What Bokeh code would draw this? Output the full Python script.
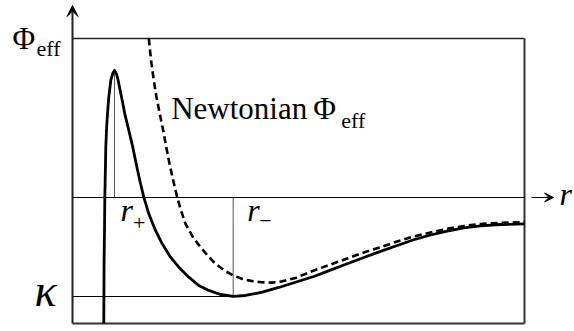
from bokeh.plotting import figure
from bokeh.models import Range1d, Arrow, VeeHead
from bokeh.core.properties import value
from bokeh.embed import file_html
from bokeh.resources import INLINE

# Effective potential in general relativity (solid curve)
r_gr = [0.692, 0.699, 0.708, 0.715, 0.723, 0.730, 0.737, 0.752, 0.774, 0.803,
        0.847, 0.892, 0.929, 0.973, 1.011, 1.055, 1.100, 1.157, 1.246, 1.334,
        1.409, 1.489, 1.577, 1.688, 1.836, 1.985, 2.168, 2.352, 2.573, 2.794,
        3.015, 3.274, 3.555, 3.827, 4.197, 4.564, 4.934, 5.339, 5.708, 6.077,
        6.446, 6.814, 7.184, 7.551, 7.920, 8.290, 8.657, 9.027, 9.469, 10.0]
phi_gr = [-1.273, -0.636, -0.333, 0.003, 0.172, 0.343, 0.508, 0.677, 0.845, 1.013,
          1.182, 1.256, 1.283, 1.249, 1.182, 1.081, 0.980, 0.845, 0.677, 0.508,
          0.340, 0.172, 0.003, -0.165, -0.333, -0.468, -0.603, -0.704, -0.805, -0.889,
          -0.939, -0.980, -1.0, -0.990, -0.957, -0.909, -0.856, -0.798, -0.734, -0.670,
          -0.606, -0.545, -0.485, -0.427, -0.379, -0.340, -0.308, -0.286, -0.273, -0.266]

# Newtonian effective potential (dashed curve)
r_newt = [1.688, 1.715, 1.748, 1.799, 1.858, 1.931, 2.007, 2.075, 2.146, 2.228,
          2.316, 2.400, 2.500, 2.655, 2.832, 2.998, 3.164, 3.352, 3.555, 3.761,
          3.976, 4.181, 4.403, 4.602, 4.934, 5.339, 5.708, 6.077, 6.446, 6.814,
          7.184, 7.551, 7.920, 8.290, 8.657, 9.027, 9.469, 10.0]
phi_newt = [1.606, 1.485, 1.351, 1.182, 1.013, 0.845, 0.677, 0.508, 0.340, 0.172,
            0.003, -0.131, -0.266, -0.394, -0.502, -0.591, -0.670, -0.734, -0.788, -0.823,
            -0.845, -0.857, -0.860, -0.851, -0.813, -0.737, -0.677, -0.616, -0.556, -0.502,
            -0.444, -0.394, -0.354, -0.316, -0.288, -0.268, -0.256, -0.249]

# Plot box limits
R_MAX = 10.0
PHI_TOP = 1.606
PHI_BOT = -1.273

# Turning points of the GR curve: maximum (r+) and the minimum beyond it (r-)
i_max = phi_gr.index(max(phi_gr))
tail = phi_gr[i_max:]
i_min = i_max + tail.index(min(tail))
r_plus, phi_peak = r_gr[i_max], phi_gr[i_max]
r_minus, kappa = r_gr[i_min], phi_gr[i_min]

W, H = 574, 331
PX = 45.2   # pixels per unit r
PY = 99.0   # pixels per unit Phi


def dx(px):
    return px / PX


def dy(py):
    return py / PY


p = figure(width=W, height=H,
           x_range=Range1d(-dx(72), R_MAX + dx(50)),
           y_range=Range1d(PHI_BOT - dy(8), PHI_TOP + dy(38)),
           output_backend="svg", toolbar_location=None,
           min_border=0, min_border_left=0, min_border_right=0,
           min_border_top=0, min_border_bottom=0)
p.axis.visible = False
p.grid.visible = False
p.outline_line_color = None
p.background_fill_color = "white"
p.border_fill_color = "white"

FONT = value("Liberation Serif")
dark = "#222222"


def label(x, y_base, txt, size, italic=False, align="left"):
    """Place text so that its baseline sits at y_base (data units)."""
    lift = dy(0.33 * size)
    p.text(x=[x], y=[y_base + lift], text=[txt], text_font=FONT,
           text_font_style="italic" if italic else "normal",
           text_font_size=f"{size}px", text_align=align,
           text_baseline="alphabetic", text_color="black")


# Box: top, right, bottom
p.line([0, R_MAX], [PHI_TOP, PHI_TOP], line_color=dark, line_width=1.5)
p.line([R_MAX, R_MAX], [PHI_BOT, PHI_TOP], line_color="#333333", line_width=2)
p.line([0, R_MAX], [PHI_BOT, PHI_BOT], line_color="#333333", line_width=2)

# r axis and kappa level
p.line([0, R_MAX], [0, 0], line_color="black", line_width=1.2)
p.line([0, r_minus], [kappa, kappa], line_color="black", line_width=1.2)

# markers for the turning points
p.line([r_plus, r_plus], [0, phi_peak], line_color="#555555", line_width=1)
p.line([r_minus, r_minus], [kappa, 0], line_color="#555555", line_width=1)

# vertical axis with arrow
p.add_layout(Arrow(end=VeeHead(size=11, line_color="black", fill_color="black", line_width=1),
                   x_start=0, y_start=PHI_BOT, x_end=0, y_end=PHI_TOP + dy(33),
                   line_color=dark, line_width=2))
# r arrow
p.add_layout(Arrow(end=VeeHead(size=9, line_color="black", fill_color="black", line_width=1),
                   x_start=R_MAX + dx(7), y_start=0, x_end=R_MAX + dx(29), y_end=0,
                   line_color="black", line_width=1.2))

# curves
p.line(r_newt, phi_newt, line_color="black", line_width=2.6, line_dash="7 4",
       line_join="round")
p.line(r_gr, phi_gr, line_color="black", line_width=2.8, line_join="round")

# vertical axis label
label(-dx(60), PHI_TOP - dy(10), "Φ", 31)
label(-dx(36), PHI_TOP - dy(17), "eff", 22)

# kappa level label
label(-dx(16), kappa - dy(9), "κ", 46, italic=True, align="right")

# Newtonian curve label
label(dx(170.7 - 72), dy(197 - 118), "Newtonian", 31)
label(dx(312.7 - 72), dy(197 - 118), "Φ", 31)
label(dx(340.7 - 72), dy(197 - 127), "eff", 22)

# turning point labels
label(r_plus + dx(6), -dy(23), "r", 32, italic=True)
label(r_plus + dx(18.5), -dy(33), "+", 22)
label(r_minus + dx(14), -dy(23), "r", 32, italic=True)
label(r_minus + dx(26), -dy(31), "−", 22)

# r axis label
label(R_MAX + dx(35), -dy(7), "r", 32, italic=True)

open("out.html", "w").write(file_html(p, INLINE))
